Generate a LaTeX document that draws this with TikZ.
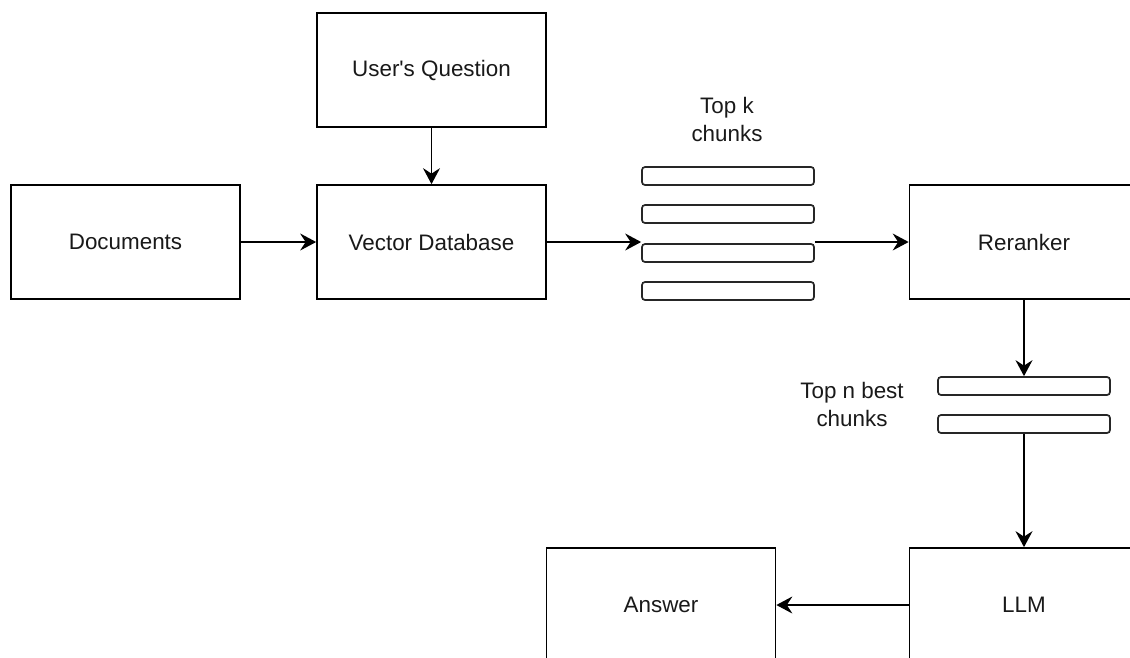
\documentclass[tikz,border=0pt]{standalone}
\usepackage{fontspec}
\setmainfont{Liberation Sans}
\usetikzlibrary{arrows.meta}
\begin{document}
\begin{tikzpicture}[x=1pt,y=-1pt,
  every node/.style={font=\fontsize{22.4}{28}\selectfont, text=black!90},
  block/.style={draw=black, line width=1.7pt, fill=white, minimum width=229pt, minimum height=114pt, inner sep=0pt},
  chunk/.style={draw=black!85, line width=1.7pt, fill=white, rounded corners=3pt, minimum width=172pt, minimum height=18pt, inner sep=0pt},
  flow/.style={line width=1.7pt, draw=black, -{Stealth[length=16pt,width=17pt,inset=5.5pt]}},
  caption/.style={align=center, inner sep=0pt}]
\useasboundingbox (0,0) rectangle (1130,657);
\clip (0,0) rectangle (1130,657);

% main blocks
\node[block] (q)    at (431.5,70)  {User\textquotesingle s Question};
\node[block] (docs) at (125.5,242) {Documents};
\node[block] (vdb)  at (431.5,242) {Vector Database};
\node[block] (rr)   at (1024,242)  {Reranker};
\node[block] (llm)  at (1024,605)  {LLM};
\node[block] (ans)  at (661,605)   {Answer};

% retrieved chunks
\node[chunk] (k1) at (728,176) {};
\node[chunk] (k2) at (728,214) {};
\node[chunk] (k3) at (728,253) {};
\node[chunk] (k4) at (728,291) {};
\node[caption] (klabel) at (727,119) {Top k\\chunks};

% reranked chunks
\node[chunk] (n1) at (1024,386) {};
\node[chunk] (n2) at (1024,424) {};
\node[caption] (nlabel) at (852,404) {Top n best\\chunks};

% connectors
\draw[flow] (q.south) -- (vdb.north);
\draw[flow] (docs.east) -- (vdb.west);
\draw[flow] (vdb.east) -- (vdb.east -| k3.west);
\draw[flow] (rr.west -| k3.east) -- (rr.west);
\draw[flow] (rr.south) -- (n1.north);
\draw[flow] (n2.south) -- (llm.north);
\draw[flow] (llm.west) -- (ans.east);
\end{tikzpicture}
\end{document}
